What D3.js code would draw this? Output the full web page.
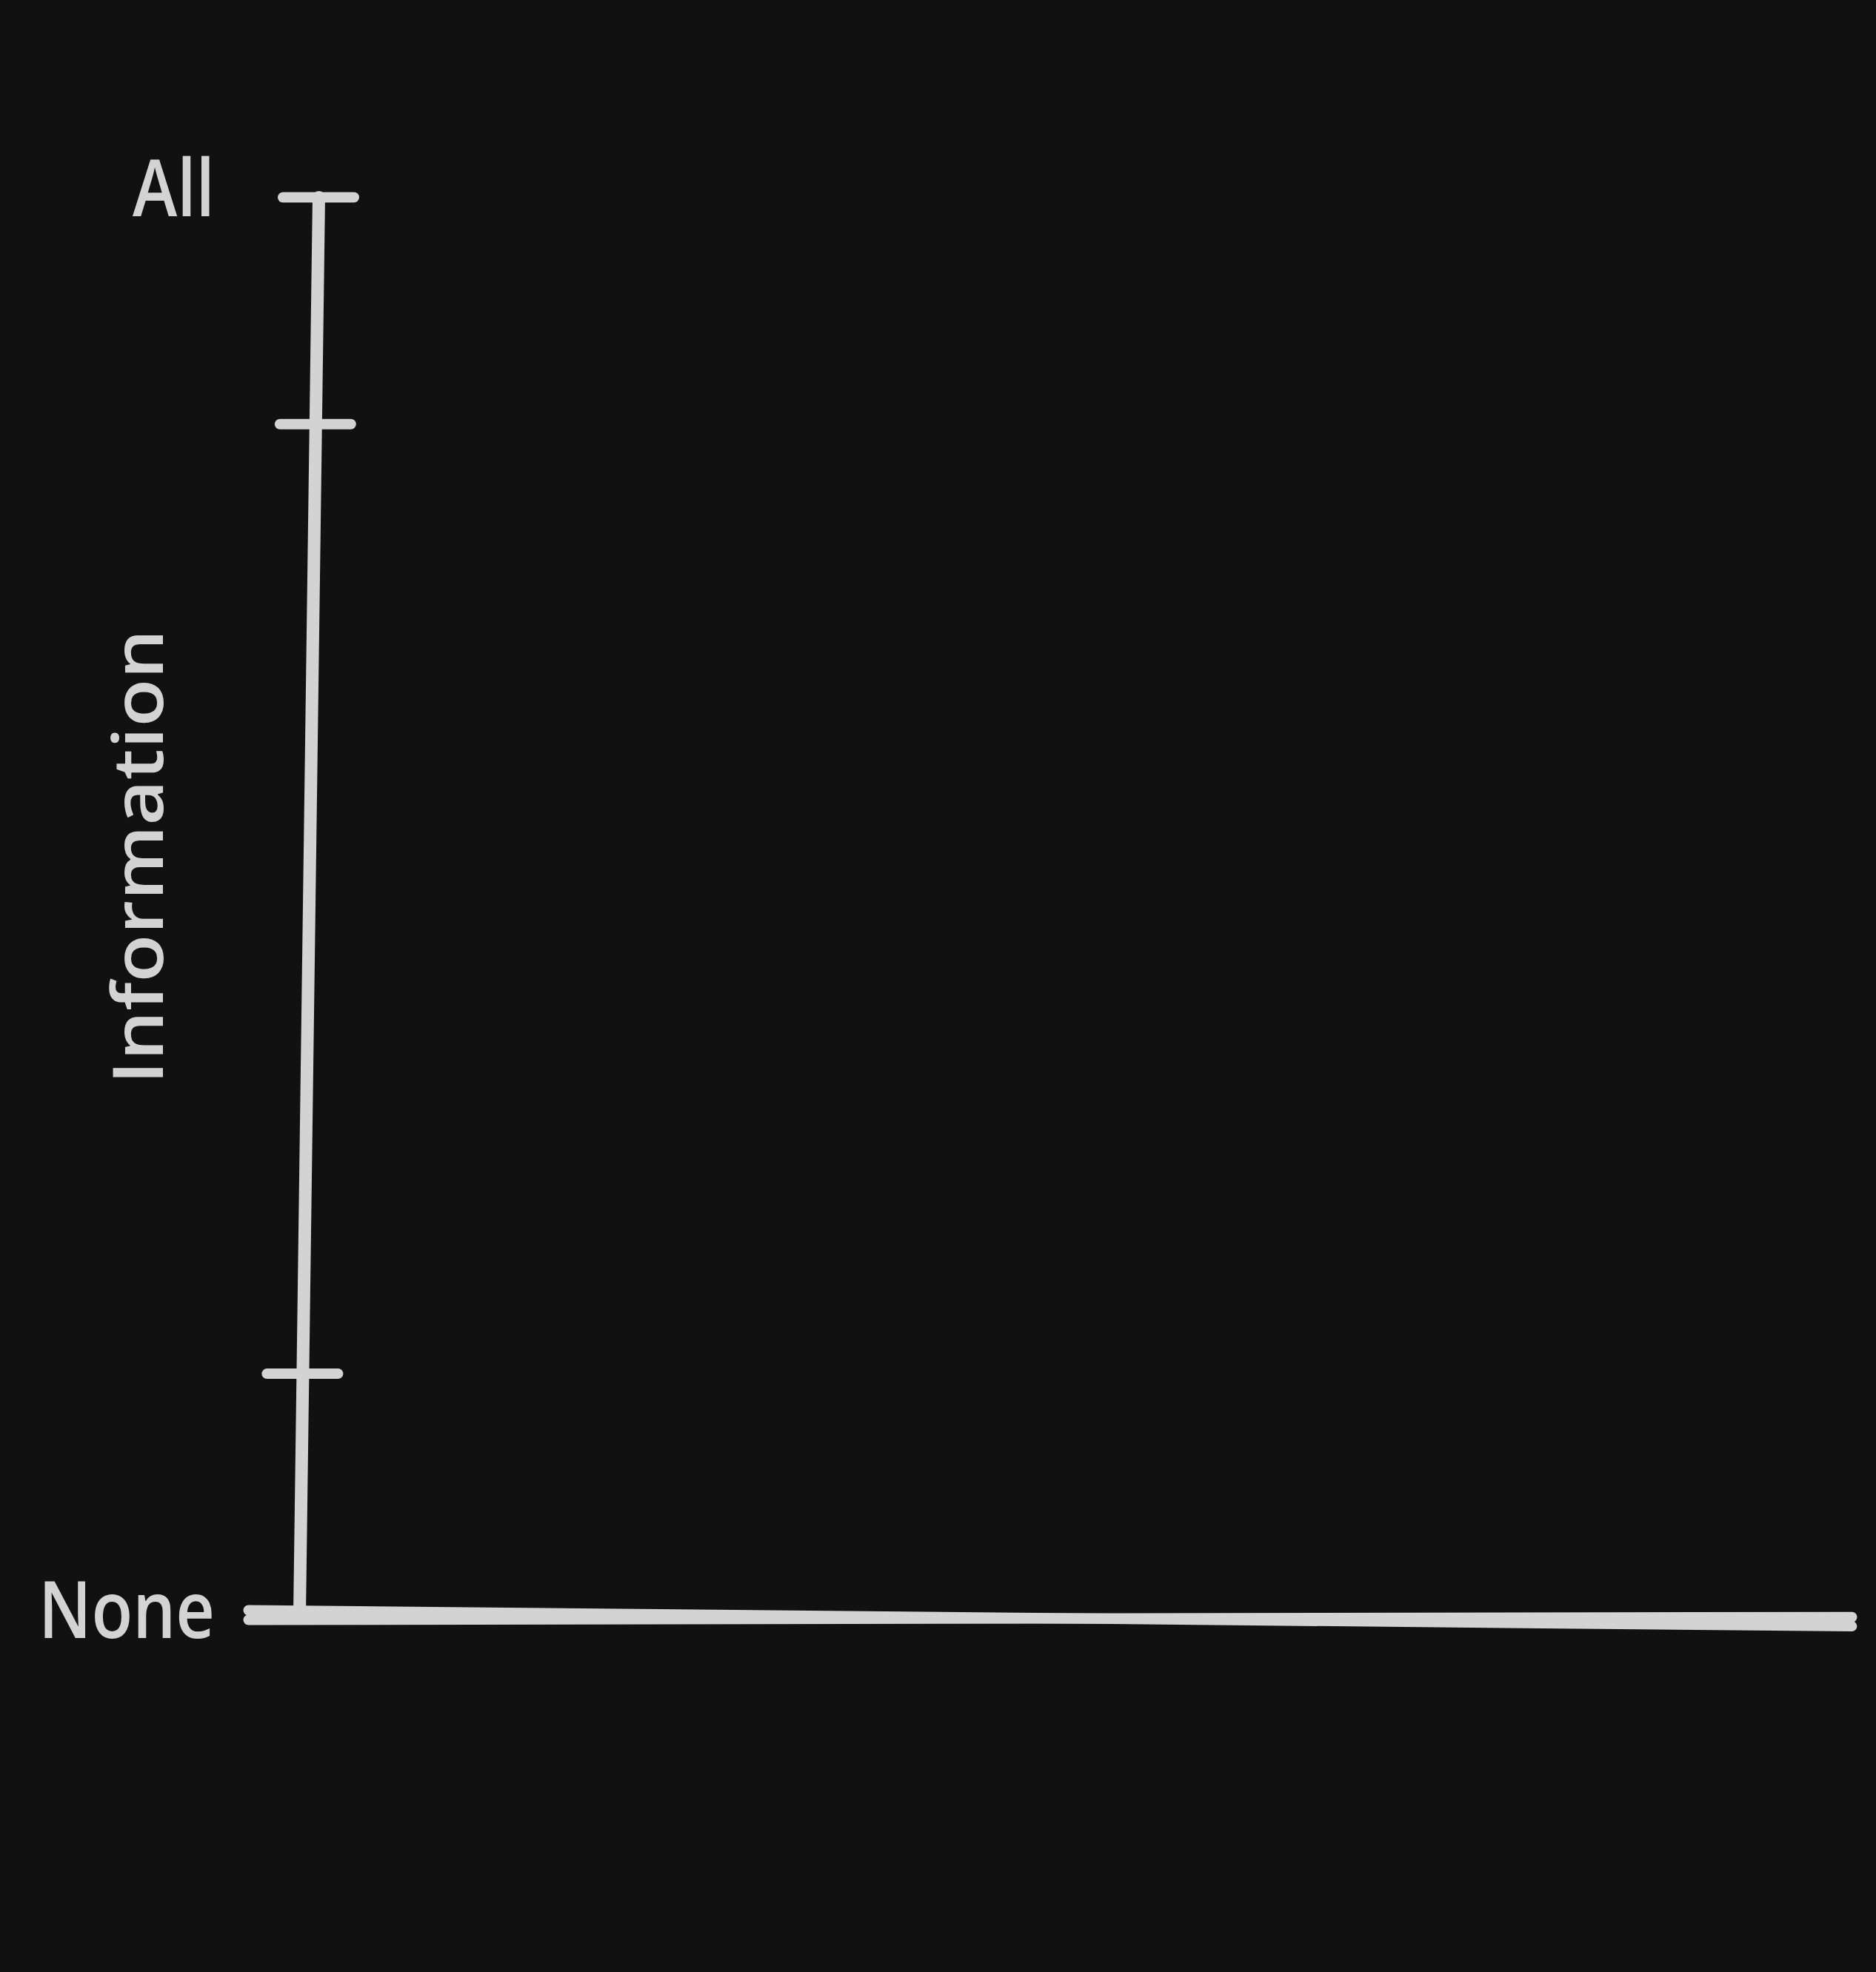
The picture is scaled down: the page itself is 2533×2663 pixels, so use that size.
<!DOCTYPE html>
<html>
<head>
<meta charset="utf-8">
<script src="https://cdn.jsdelivr.net/npm/d3@7"></script>
<style>
  html, body { margin: 0; padding: 0; background: #111111; }
  svg { display: block; }
</style>
</head>
<body>
<script>
// ---- data ----
const yTickValues = [0, 0.17, 0.84, 1];
const yTickLabels = ["None", "", "", "All"];
const yAxisTitle = "Information";
const xDomain = [0, 1];

// ---- layout ----
const W = 2533, H = 2663;
const ink = "#d3d3d3";
const font = "'Open Sans', 'DejaVu Sans', sans-serif";

const svg = d3.select("body").append("svg")
  .attr("width", W).attr("height", H)
  .style("background", "#111111");

svg.append("rect").attr("width", W).attr("height", H).attr("fill", "#111111");

const y = d3.scaleLinear().domain([0, 1]).range([2180, 266]);
const x = d3.scaleLinear().domain(xDomain).range([335, 2500]);

// y axis line + ticks (slightly slanted, hand-drawn look)
const tk = 48;
const yAxisG = svg.append("g")
  .attr("transform", "translate(433.6,0) skewX(-0.778)")
  .call(d3.axisLeft(y).tickValues(yTickValues).tickSize(tk).tickSizeOuter(0).tickFormat(""));
yAxisG.selectAll(".domain")
  .attr("stroke", ink).attr("stroke-width", 17).attr("stroke-linecap", "round");
yAxisG.selectAll(".tick line")
  .attr("x1", tk)
  .attr("stroke", ink).attr("stroke-width", 14).attr("stroke-linecap", "round");

// y tick labels
const yLabG = svg.append("g")
  .attr("transform", "translate(290,0)")
  .call(d3.axisLeft(y).tickValues(yTickValues).tickSize(0).tickPadding(0)
    .tickFormat((d, i) => yTickLabels[i]));
yLabG.select(".domain").remove();
yLabG.selectAll(".tick text")
  .attr("fill", ink)
  .attr("font-family", font)
  .attr("font-weight", 600)
  .attr("font-size", 106)
  .attr("dy", "0.3em")
  .each(function(d, i) {
    const t = yTickLabels[i];
    if (t === "All") d3.select(this).attr("textLength", 111).attr("lengthAdjust", "spacingAndGlyphs").attr("dy", "0.24em");
    if (t === "None") d3.select(this).attr("textLength", 238).attr("lengthAdjust", "spacingAndGlyphs");
  });

// x axis: two overlapping hand-drawn strokes
function xStroke(x0, y0, angle) {
  const g = svg.append("g")
    .attr("transform", `translate(0,${y0}) rotate(${angle},${x0},0)`)
    .call(d3.axisBottom(x).ticks(0).tickSizeOuter(0));
  g.select(".domain")
    .attr("stroke", ink).attr("stroke-width", 14).attr("stroke-linecap", "round");
  return g;
}
xStroke(335, 2174, 0.57);
xStroke(335, 2187, -0.1);

// y axis title
svg.append("text")
  .attr("transform", "translate(184,1157) rotate(-90)")
  .attr("text-anchor", "middle")
  .attr("dominant-baseline", "central")
  .attr("fill", ink)
  .attr("font-family", font)
  .attr("font-weight", 600)
  .attr("font-size", 94)
  .attr("textLength", 615)
  .attr("lengthAdjust", "spacingAndGlyphs")
  .text(yAxisTitle);
</script>
</body>
</html>
